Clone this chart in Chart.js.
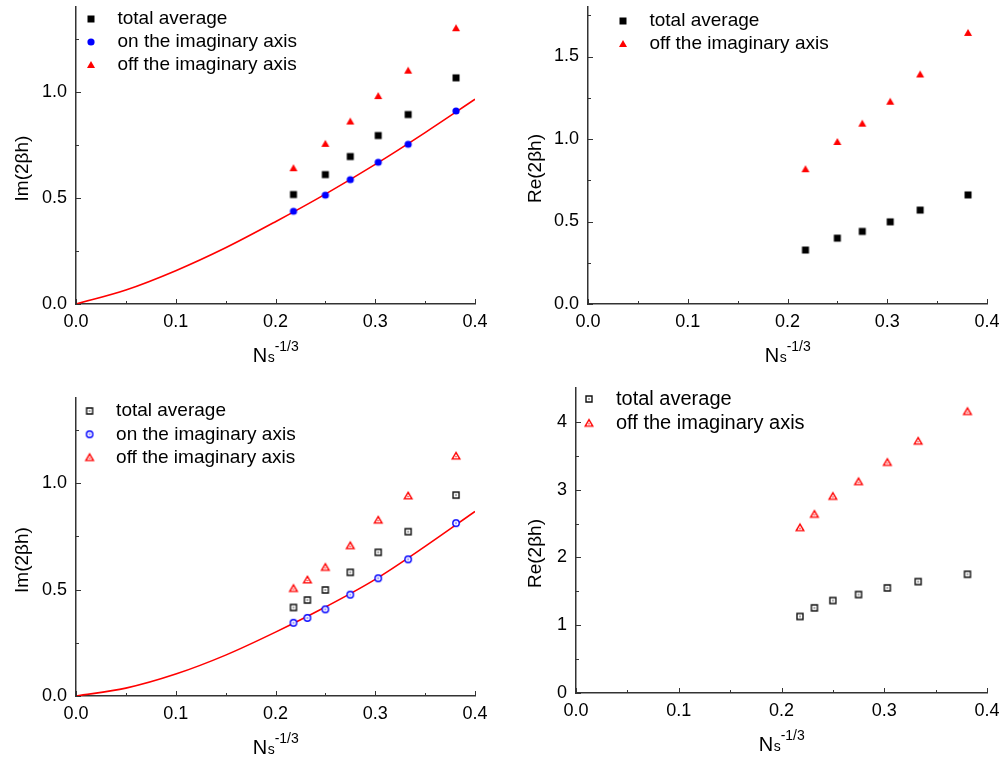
<html>
<head>
<script src="https://cdn.jsdelivr.net/npm/chart.js@4"></script>
<style>
    body { margin: 0; background: #fff; }
    #wrap { position: relative; width: 1004px; height: 760px; }
    canvas { position: absolute; }
</style>
</head>
<body>
<div id="wrap">
    <canvas id="c1" width="502" height="380" style="left:0px;top:0px"></canvas>
    <canvas id="c2" width="502" height="380" style="left:502px;top:0px"></canvas>
    <canvas id="c3" width="502" height="380" style="left:0px;top:380px"></canvas>
    <canvas id="c4" width="502" height="380" style="left:502px;top:380px"></canvas>
</div>
<script>
// N_s^(-1/3) positions
var xTop = [0.218, 0.25, 0.275, 0.303, 0.333, 0.381];
var xBottom = [0.218, 0.232, 0.25, 0.275, 0.303, 0.333, 0.381];

// top-left: Im(2 beta h), filled markers
var avgImTop = [0.516, 0.610, 0.695, 0.794, 0.893, 1.066];
var onImTop = [0.437, 0.513, 0.586, 0.668, 0.753, 0.910];
var offImTop = [0.640, 0.755, 0.860, 0.980, 1.100, 1.300];

// top-right: Re(2 beta h)
var avgReTop = [0.327, 0.399, 0.440, 0.498, 0.569, 0.661];
var offReTop = [0.817, 0.982, 1.093, 1.226, 1.391, 1.643];

// bottom-left: Im(2 beta h), open markers
var avgImBottom = [0.416, 0.451, 0.498, 0.581, 0.675, 0.772, 0.944];
var onImBottom = [0.344, 0.367, 0.407, 0.476, 0.553, 0.642, 0.812];
var offImBottom = [0.505, 0.545, 0.604, 0.706, 0.826, 0.940, 1.127];

// bottom-right: Re(2 beta h)
var avgReBottom = [1.129, 1.256, 1.364, 1.453, 1.551, 1.644, 1.752];
var offReBottom = [2.439, 2.636, 2.901, 3.117, 3.401, 3.715, 4.152];

// red fit curves
var curveX = [0, 0.05, 0.1, 0.15, 0.2, 0.25, 0.3, 0.35, 0.4];
var fitTop = [0, 0.066, 0.157, 0.265, 0.388, 0.518, 0.658, 0.808, 0.965];
var fitBottom = [0, 0.037, 0.103, 0.192, 0.300, 0.418, 0.548, 0.703, 0.867];

// tick labels
var xTicks = [0, 0.1, 0.2, 0.3, 0.4];
var xMinor = [0.05, 0.15, 0.25, 0.35];
var yTicksIm = [0, 0.5, 1.0];
var yMinorIm = [0.25, 0.75, 1.25];
var yTicksReTop = [0, 0.5, 1.0, 1.5];
var yMinorReTop = [0.25, 0.75, 1.25, 1.75];
var yTicksReBottom = [0, 1, 2, 3, 4];
var yMinorReBottom = [0.5, 1.5, 2.5, 3.5];

var labelAvg = 'total average';
var labelOn = 'on the imaginary axis';
var labelOff = 'off the imaginary axis';

var FONT = "'Liberation Sans', Arial, sans-serif";
var AXIS = '#333333';

function marker(shape, color, hollow)
{
    var c = document.createElement('canvas');
    c.width = 12; c.height = 12;
    var g = c.getContext('2d');
    g.translate(6, 6);
    g.beginPath();
    if (shape == 'square') {
        if (hollow) g.rect(-3, -3, 6, 6); else g.rect(-3.5, -3.5, 7, 7);
    } else if (shape == 'circle') {
        g.arc(0, 0, hollow ? 3.2 : 3.6, 0, Math.PI * 2);
    } else {
        if (hollow) { g.moveTo(0, -3.7); g.lineTo(3.8, 2.9); g.lineTo(-3.8, 2.9); }
        else { g.moveTo(0, -4); g.lineTo(4, 3); g.lineTo(-4, 3); }
        g.closePath();
    }
    if (hollow) {
        g.fillStyle = '#fff';
        g.fill();
        g.lineWidth = 1.4;
        g.strokeStyle = color;
        g.stroke();
        g.fillStyle = color;
        g.fillRect(-0.6, shape == 'triangle' ? 0 : -0.6, 1.2, 1.2);
    } else {
        g.fillStyle = color;
        g.fill();
    }
    return c;
}

function pts(xs, ys)
{
    var out = [];
    for (var i = 0; i < xs.length; i++) out.push({x: xs[i], y: ys[i]});
    return out;
}

function pointSet(label, xs, ys, style)
{
    return { label: label, data: pts(xs, ys), pointStyle: style, pointRadius: 4,
             borderColor: 'rgba(0,0,0,0)', backgroundColor: 'rgba(0,0,0,0)' };
}

function makeChart(p)
{
    var datasets = p.series.slice();
    if (p.curve) {
        datasets.push({ label: '', data: pts(curveX, p.curve), showLine: true,
            borderColor: '#ff0000', borderWidth: 1.6, pointRadius: 0,
            cubicInterpolationMode: 'monotone', fill: false });
    }
    var nSeries = p.series.length;

    var axesPlugin = {
        id: 'originAxes',
        beforeDraw: function(chart) {
            // put the legend where the original one sits
            chart.legend.left = p.legend.L;
            chart.legend.top = p.legend.T;
        },
        afterDraw: function(chart) {
            var ctx = chart.ctx, a = chart.chartArea;
            var xs = chart.scales.x, ys = chart.scales.y;
            ctx.save();
            ctx.strokeStyle = AXIS;
            ctx.lineWidth = 1;
            ctx.beginPath();
            xTicks.forEach(function(v) { var px = Math.round(xs.getPixelForValue(v)) + 0.5; ctx.moveTo(px, a.bottom); ctx.lineTo(px, a.bottom - 5); });
            xMinor.forEach(function(v) { var px = Math.round(xs.getPixelForValue(v)) + 0.5; ctx.moveTo(px, a.bottom); ctx.lineTo(px, a.bottom - 3); });
            p.yTicks.forEach(function(v) { var py = Math.round(ys.getPixelForValue(v)) + 0.5; ctx.moveTo(a.left, py); ctx.lineTo(a.left + 5, py); });
            p.yMinor.forEach(function(v) { var py = Math.round(ys.getPixelForValue(v)) + 0.5; ctx.moveTo(a.left, py); ctx.lineTo(a.left + 3, py); });
            ctx.stroke();

            // y title
            ctx.fillStyle = '#000';
            ctx.font = '19px ' + FONT;
            ctx.textAlign = 'center';
            ctx.textBaseline = 'middle';
            ctx.translate(p.yTitleX, (a.top + a.bottom) / 2 + 13);
            ctx.rotate(-Math.PI / 2);
            ctx.fillText(p.yLabel, 0, 0);
            ctx.setTransform(1, 0, 0, 1, 0, 0);

            // x title N_s^-1/3
            ctx.textAlign = 'left';
            ctx.textBaseline = 'alphabetic';
            var big = '20px ' + FONT, small = '14px ' + FONT;
            ctx.font = big; var wN = ctx.measureText('N').width;
            ctx.font = small; var wS = ctx.measureText('s').width; var wP = ctx.measureText('-1/3').width;
            var x0 = (a.left + a.right) / 2 - (wN + wS + wP) / 2;
            var base = a.bottom + 58;
            ctx.font = big; ctx.fillText('N', x0, base);
            ctx.font = small; ctx.fillText('s', x0 + wN + 0.5, base);
            ctx.fillText('-1/3', x0 + wN + wS + 0.5, base - 11.5);
            ctx.restore();
        }
    };

    return new Chart(document.getElementById(p.id), {
        type: 'scatter',
        data: { datasets: datasets },
        options: {
            responsive: false,
            animation: false,
            devicePixelRatio: 1,
            layout: { padding: p.pad },
            plugins: {
                tooltip: { enabled: false },
                legend: {
                    position: 'chartArea',
                    align: 'start',
                    labels: {
                        usePointStyle: true,
                        pointStyleWidth: 34,
                        padding: p.legend.pad,
                        color: '#000',
                        font: { family: FONT, size: p.legend.size },
                        filter: function(item) { return item.datasetIndex < nSeries; }
                    }
                }
            },
            scales: {
                x: {
                    type: 'linear', min: 0, max: 0.4,
                    grid: { display: false, drawTicks: false },
                    border: { display: true, color: AXIS, width: 1.5 },
                    ticks: { color: '#000', font: { family: FONT, size: 18 }, padding: 7, maxRotation: 0, autoSkip: false,
                             callback: function(v) { return v.toFixed(1); } },
                    afterBuildTicks: function(s) { s.ticks = xTicks.map(function(v) { return {value: v}; }); },
                    afterFit: function(s) { s.height = p.xH; s.paddingLeft = 0; s.paddingRight = 0; s.paddingTop = 0; s.paddingBottom = 0; }
                },
                y: {
                    type: 'linear', min: 0, max: p.yMax,
                    grid: { display: false, drawTicks: false },
                    border: { display: true, color: AXIS, width: 1.5 },
                    ticks: { color: '#000', font: { family: FONT, size: 18 }, padding: 9, autoSkip: false,
                             callback: function(v) { return v.toFixed(p.yDigits); } },
                    afterBuildTicks: function(s) { s.ticks = p.yTicks.map(function(v) { return {value: v}; }); },
                    afterFit: function(s) { s.width = p.yW; s.paddingLeft = 0; s.paddingRight = 0; s.paddingTop = 0; s.paddingBottom = 0; }
                }
            }
        },
        plugins: [axesPlugin]
    });
}

var sqFill = marker('square', '#000', false);
var ciFill = marker('circle', '#0000ff', false);
var trFill = marker('triangle', '#ff0000', false);
var sqOpen = marker('square', '#111', true);
var ciOpen = marker('circle', '#0000ff', true);
var trOpen = marker('triangle', '#ff0000', true);

makeChart({
    id: 'c1', yLabel: 'Im(2\u03B2h)', yMax: 1.4, yTicks: yTicksIm, yMinor: yMinorIm, yDigits: 1,
    pad: {left: 0, top: 7, right: 27, bottom: 0}, yW: 76, xH: 76, yTitleX: 22.5,
    legend: {L: 70, T: 5.5, pad: 4, size: 19},
    curve: fitTop,
    series: [pointSet(labelAvg, xTop, avgImTop, sqFill),
             pointSet(labelOn, xTop, onImTop, ciFill),
             pointSet(labelOff, xTop, offImTop, trFill)]
});

makeChart({
    id: 'c2', yLabel: 'Re(2\u03B2h)', yMax: 1.8, yTicks: yTicksReTop, yMinor: yMinorReTop, yDigits: 1,
    pad: {left: 0, top: 7, right: 17, bottom: 0}, yW: 86, xH: 76, yTitleX: 33.8,
    legend: {L: 100, T: 7.5, pad: 4, size: 19},
    curve: null,
    series: [pointSet(labelAvg, xTop, avgReTop, sqFill),
             pointSet(labelOff, xTop, offReTop, trFill)]
});

makeChart({
    id: 'c3', yLabel: 'Im(2\u03B2h)', yMax: 1.4, yTicks: yTicksIm, yMinor: yMinorIm, yDigits: 1,
    pad: {left: 0, top: 18, right: 27, bottom: 0}, yW: 76, xH: 64, yTitleX: 22.5,
    legend: {L: 68.3, T: 17.2, pad: 4.3, size: 19},
    curve: fitBottom,
    series: [pointSet(labelAvg, xBottom, avgImBottom, sqOpen),
             pointSet(labelOn, xBottom, onImBottom, ciOpen),
             pointSet(labelOff, xBottom, offImBottom, trOpen)]
});

makeChart({
    id: 'c4', yLabel: 'Re(2\u03B2h)', yMax: 4.5, yTicks: yTicksReBottom, yMinor: yMinorReBottom, yDigits: 0,
    pad: {left: 0, top: 8, right: 17, bottom: 0}, yW: 74, xH: 67, yTitleX: 33.8,
    legend: {L: 65.7, T: 4.7, pad: 4.3, size: 20},
    curve: null,
    series: [pointSet(labelAvg, xBottom, avgReBottom, sqOpen),
             pointSet(labelOff, xBottom, offReBottom, trOpen)]
});
</script>
</body>
</html>
